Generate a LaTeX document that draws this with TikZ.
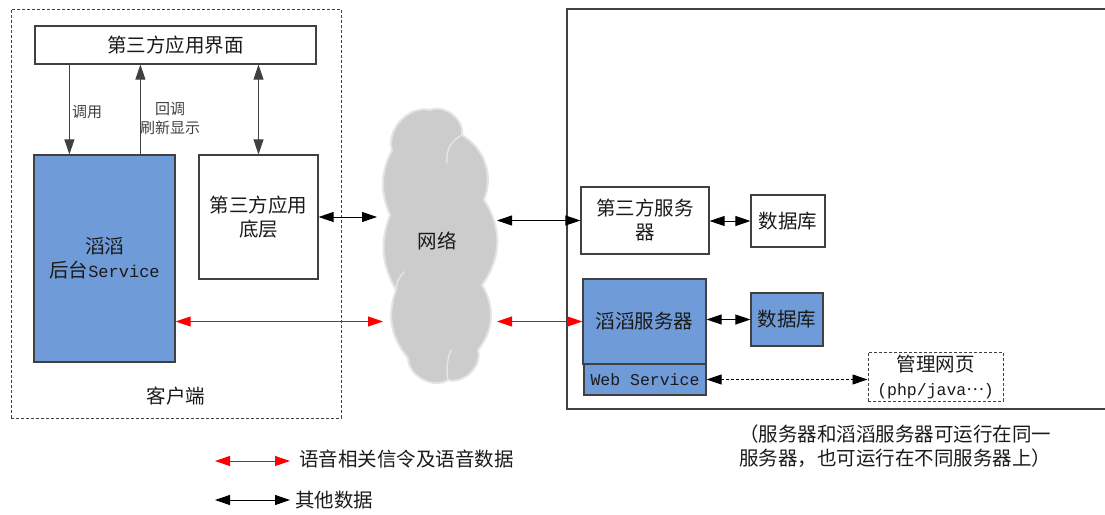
\documentclass[tikz,border=0pt]{standalone}
\usepackage{fontspec}
\newfontfamily\cjk{Noto Sans CJK SC}
\newfontfamily\mono{Liberation Mono}
\usetikzlibrary{arrows.meta,calc}
\definecolor{blu}{HTML}{6F9BD8}
\definecolor{edge}{HTML}{404040}
\definecolor{cloudfill}{HTML}{CCCCCC}
\definecolor{cloudedge}{HTML}{E4E4E4}
\definecolor{txt}{HTML}{1A1A1A}
\begin{document}
\begin{tikzpicture}[x=1pt,y=-1pt,
  font=\cjk\fontsize{19.5}{24}\selectfont, text=txt,
  box/.style={draw=edge,line width=1.2pt,inner sep=0pt,align=center},
  bluebox/.style={box,fill=blu},
  dsh/.style={dash pattern=on 3pt off 2pt},
  small/.style={font=\cjk\fontsize{15}{19}\selectfont,inner sep=0pt,align=center,text=edge},
  tipA/.tip={Triangle[length=15pt,width=10pt]},
  both/.style={line width=0.9pt,tipA-tipA},
  one/.style={line width=0.9pt,-tipA},
  redarr/.style={both,draw=red,color=red},
  cloudstyle/.style={fill=cloudfill,draw=cloudedge,line width=2pt,line join=round},
  puffline/.style={draw=cloudedge,line width=1.5pt,line cap=round}]
\useasboundingbox (0,0) rectangle (1105,514);

% client area
\node[draw=edge,line width=0.9pt,dsh,minimum width=330pt,minimum height=409pt,inner sep=0pt] (client) at (176,213.5) {};
\node[inner sep=0pt] (clientlbl) at (176,396) {客户端};

% server frame
\draw[edge,line width=1.2pt] (1105,9) -- (567,9) -- (567,409) -- (1105,409);

% client boxes
\node[box,minimum width=281pt,minimum height=38pt] (ui) at (175.5,45) {第三方应用界面};
\node[bluebox,minimum width=141pt,minimum height=207pt] (svc) at (104.5,258.5) {滔滔\\后台{\mono\fontsize{17}{24}\selectfont Service}};
\node[box,minimum width=119pt,minimum height=124pt] (lower) at (258.5,217) {第三方应用\\底层};

% cloud
\path[cloudstyle] (392,150) to[bend left=60] (430,110) to[bend left=60] (462,135)
  to[bend left=40] (484,200) to[bend left=35] (482,285) to[bend left=35] (478,350)
  to[bend left=60] (448,380) to[bend left=60] (408,358) to[bend left=30] (396,290)
  to[bend left=25] (390,215) to[bend left=25] (392,150) -- cycle;
\draw[puffline] (462,135) to[bend right=35] (447,163);
\draw[puffline] (448,380) to[bend left=15] (451,350);
\draw[puffline] (396,290) to[bend left=20] (404,272);
\node[inner sep=0pt] (net) at (437,241) {网络};
\coordinate (cw) at (385,244);
\coordinate (ce) at (497,244);

% server side boxes
\node[box,minimum width=128pt,minimum height=67pt] (tps) at (645,220.5) {第三方服务\\器};
\node[box,minimum width=74pt,minimum height=52pt] (db1) at (788,221) {数据库};
\node[bluebox,minimum width=123pt,minimum height=85pt] (tts) at (644.5,321.5) {滔滔服务器};
\node[bluebox,minimum width=122pt,minimum height=31pt,font=\mono\fontsize{16.5}{20}\selectfont] (ws) at (645,379.5) {Web Service};
\node[bluebox,minimum width=72pt,minimum height=53pt] (db2) at (787,319.5) {数据库};
\node[box,dsh,line width=1pt,minimum width=135pt,minimum height=49pt] (mgmt) at (935.5,376.5) {管理网页\\{\mono\fontsize{16.5}{22}\selectfont(php/java}{\cjk\fontsize{16.5}{22}\selectfont\raisebox{0.3em}{…}}{\mono\fontsize{16.5}{22}\selectfont)}};

% vertical connectors
\coordinate (c1) at ([xshift=36pt]svc.north west);
\coordinate (c2) at ([xshift=107pt]svc.north west);
\draw[one,edge] (c1 |- ui.south) -- (c1);
\draw[one,edge] (c2) -- (c2 |- ui.south);
\draw[both,edge] (lower.north) -- (lower.north |- ui.south);
\node[small] (lblcall) at (87,112) {调用};
\node[small] (lblback) at (170,118) {回调\\刷新显示};

% horizontal connectors
\draw[both,shorten >=8pt] (lower.east) -- (lower.east -| cw);
\draw[redarr,shorten >=2pt] (svc.east |- tts.west) -- (cw |- tts.west);
\draw[both] (ce |- tps.west) -- (tps.west);
\draw[redarr] (ce |- tts.west) -- (tts.west);
\draw[both] (tps.east |- db1.west) -- (db1.west);
\draw[both] (tts.east |- db2.west) -- (db2.west);
\draw[both,dsh] (ws.east) -- (ws.east -| mgmt.west);

% note
\node[align=center,inner sep=0pt] (note) at (895,446) {（服务器和滔滔服务器可运行在同一\\服务器，也可运行在不同服务器上）};

% legend
\coordinate (r1) at (215,461);
\coordinate (r2) at (290,461);
\coordinate (k1) at (215,500);
\coordinate (k2) at (290,500);
\draw[redarr] (r1) -- (r2);
\draw[both] (k1) -- (k2);
\node[anchor=west,inner sep=0pt] (rlbl) at ([xshift=9pt,yshift=2pt]r2) {语音相关信令及语音数据};
\node[anchor=west,inner sep=0pt] (klbl) at ([xshift=5pt]k2) {其他数据};
\end{tikzpicture}
\end{document}
